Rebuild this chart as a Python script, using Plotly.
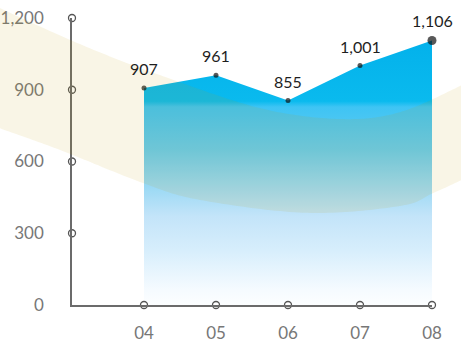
import numpy as np
import plotly.graph_objects as go

# Data
years = ["04", "05", "06", "07", "08"]
values = [907, 961, 855, 1001, 1106]
value_labels = ["907", "961", "855", "1,001", "1,106"]
y_ticks = [0, 300, 600, 900, 1200]
y_tick_labels = ["0", "300", "600", "900", "1,200"]

xpos = list(range(len(years)))

AXIS_COLOR = "#6b6b6b"
TICK_FONT = dict(family="Lato, Open Sans, sans-serif", size=17, color="#777777")

fig = go.Figure()

# Gradient area (value scale 0..1200 mapped onto the colorscale)
fig.add_trace(go.Scatter(
    x=xpos, y=values, mode="lines", fill="tozeroy",
    line=dict(width=0, color="#00b2ec"),
    fillgradient=dict(
        type="vertical", start=0, stop=1200,
        colorscale=[
            [0.00, "rgb(252,254,255)"],
            [0.05, "rgb(246,251,255)"],
            [0.19, "rgb(215,238,252)"],
            [0.31, "rgb(195,228,249)"],
            [0.54, "rgb(102,203,238)"],
            [0.69, "rgb(62,196,244)"],
            [0.71, "rgb(10,186,238)"],
            [1.00, "rgb(0,174,234)"],
        ],
    ),
    hoverinfo="skip", showlegend=False,
))

# Data points
fig.add_trace(go.Scatter(
    x=xpos, y=values, mode="markers",
    marker=dict(color="#111111", size=[5, 5, 5, 5, 9], line=dict(width=0)),
    cliponaxis=False, showlegend=False,
))

# Hollow tick markers on both axes
fig.add_trace(go.Scatter(
    x=xpos, y=[0] * len(xpos), mode="markers",
    marker=dict(color="white", size=7, line=dict(color="#555555", width=1.3)),
    cliponaxis=False, showlegend=False,
))
fig.add_trace(go.Scatter(
    x=[-1] * 4, y=y_ticks[1:], mode="markers",
    marker=dict(color="white", size=7, line=dict(color="#555555", width=1.3)),
    cliponaxis=False, showlegend=False,
))

# Value labels
for xp, v, lab in zip(xpos, values, value_labels):
    fig.add_annotation(
        x=xp, y=v, text=lab, showarrow=False, yanchor="bottom", yshift=8,
        font=dict(family="Lato, Open Sans, sans-serif", size=16, color="#1e1e1e"),
    )


# Decorative curved band across the chart (paper coordinates)
def smooth(points, n=24):
    pts = np.asarray(points, dtype=float)
    p = np.vstack([pts[0], pts, pts[-1]])
    out = []
    for i in range(1, len(p) - 2):
        p0, p1, p2, p3 = p[i - 1], p[i], p[i + 1], p[i + 2]
        for t in np.linspace(0, 1, n, endpoint=False):
            t2, t3 = t * t, t * t * t
            out.append(0.5 * ((2 * p1) + (-p0 + p2) * t
                              + (2 * p0 - 5 * p1 + 4 * p2 - p3) * t2
                              + (-p0 + 3 * p1 - 3 * p2 + p3) * t3))
    out.append(pts[-1])
    return out


band_upper = [(-0.21, 1.04), (0.022, 0.909), (0.244, 0.801), (0.522, 0.686),
              (0.744, 0.648), (0.911, 0.672), (1.09, 0.77)]
band_lower = [(1.09, 0.44), (1.003, 0.390), (0.911, 0.345), (0.653, 0.321),
              (0.356, 0.366), (0.197, 0.425), (-0.033, 0.540), (-0.21, 0.62)]
outline = smooth(band_upper) + smooth(band_lower)
path = "M " + " L ".join(f"{x:.4f},{y:.4f}" for x, y in outline) + " Z"

fig.add_shape(
    type="path", path=path, xref="paper", yref="paper", layer="above",
    fillcolor="rgba(195,155,5,0.1)", line=dict(width=0),
)

fig.update_xaxes(
    range=[-1, 4], tickvals=xpos, ticktext=years,
    showgrid=False, zeroline=False,
    showline=True, linecolor=AXIS_COLOR, linewidth=1.5,
    ticks="", ticklabelstandoff=12, tickfont=TICK_FONT,
)
fig.update_yaxes(
    range=[0, 1200], tickvals=y_ticks, ticktext=y_tick_labels,
    showgrid=False, zeroline=False,
    showline=True, linecolor=AXIS_COLOR, linewidth=1.5,
    ticks="", ticklabelstandoff=23, tickfont=TICK_FONT,
)
fig.update_layout(
    width=461, height=343,
    margin=dict(l=72, r=29, t=18, b=38, autoexpand=False),
    paper_bgcolor="white", plot_bgcolor="rgba(0,0,0,0)",
    showlegend=False,
)

fig.write_html("out.html")
